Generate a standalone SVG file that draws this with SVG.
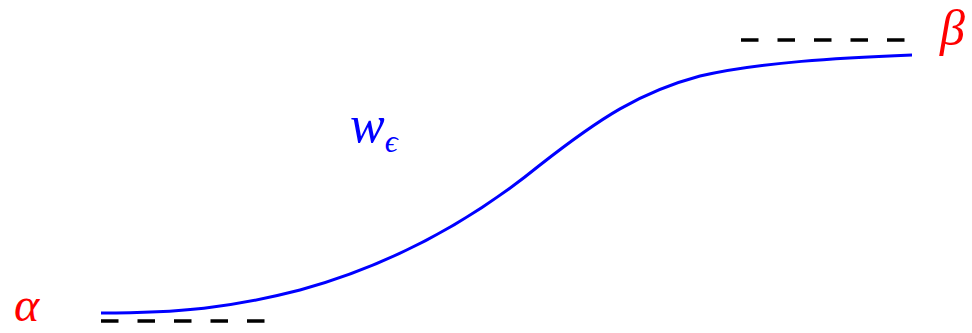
<svg xmlns="http://www.w3.org/2000/svg" width="972" height="333" viewBox="0 0 972 333">
<style>
.dash{stroke:#000;stroke-width:3.5;stroke-dasharray:17.5 19;fill:none}
.curve{stroke:#0000ff;stroke-width:3;fill:none}
.lbl{font-family:"Liberation Serif","DejaVu Serif",serif;font-style:italic;fill:#ff0000}
.w{font-family:"Liberation Serif","DejaVu Serif",serif;font-style:italic;fill:#0000ff}
</style>
<rect width="972" height="333" fill="#fff"/>
<g id="connectors">
<path class="dash" d="M101,321 H266"/>
<path class="dash" d="M741,40 H906"/>
<path id="w-curve" class="curve" d="M101,313 C180,313 230,308 300,290 C380,268 460,230 540,165 C600,118 640,92 700,76 C760,62 840,58 912,55"/>
</g>
<g id="alpha"><text class="lbl" x="14" y="321" font-size="48">α</text></g>
<g id="beta"><text class="lbl" x="940" y="45" font-size="50">β</text></g>
<g id="w-label"><text class="w" x="350" y="142" font-size="52">w<tspan font-size="32" dy="10">ϵ</tspan></text></g>
</svg>
